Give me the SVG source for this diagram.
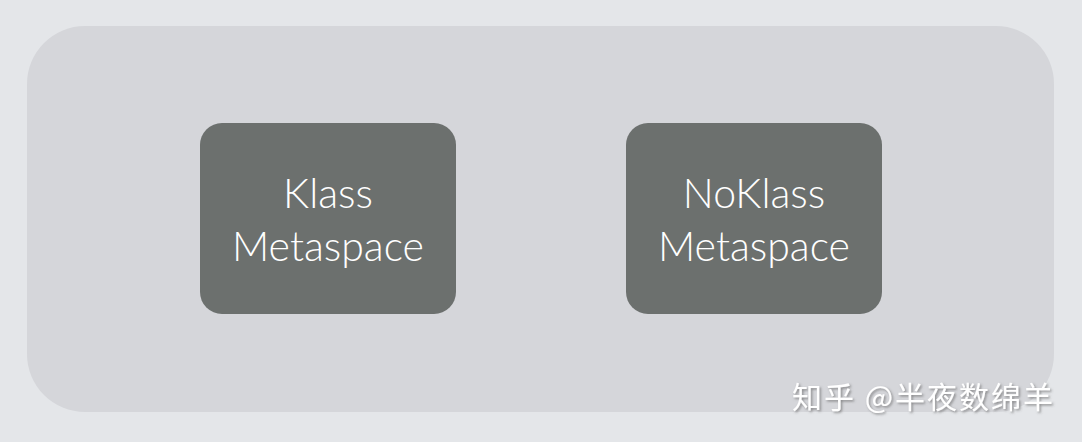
<svg xmlns="http://www.w3.org/2000/svg" width="1082" height="442" viewBox="0 0 1082 442">
<defs>
<style>
.node rect{fill:#6c706e}
.node text{fill:#ffffff;font-family:Lato,"Open Sans","Liberation Sans",sans-serif;font-weight:300;font-size:41px;text-anchor:middle}
.wm{fill:#ffffff;font-family:"Noto Sans CJK SC","Liberation Sans",sans-serif;font-size:30px}
</style>
<filter id="sh" x="-10%" y="-30%" width="120%" height="160%">
<feDropShadow dx="1.5" dy="1.5" stdDeviation="1" flood-color="#555" flood-opacity="0.6"/>
</filter>
</defs>
<rect x="0" y="0" width="1082" height="442" fill="#e4e6e9"/>
<rect id="container" x="27" y="26" width="1027" height="386" rx="58" ry="58" fill="#d5d6da"/>
<g id="connectors"></g>
<g id="klass" class="node">
<rect x="200" y="123" width="256" height="191" rx="22" ry="22"/>
<text x="328" y="208">Klass</text>
<text x="328" y="261">Metaspace</text>
</g>
<g id="noklass" class="node">
<rect x="626" y="123" width="256" height="191" rx="22" ry="22"/>
<text x="754" y="208">NoKlass</text>
<text x="754" y="261">Metaspace</text>
</g>
<text class="wm" x="792" y="408" textLength="261" lengthAdjust="spacing" filter="url(#sh)">知乎 @半夜数绵羊</text>
</svg>
